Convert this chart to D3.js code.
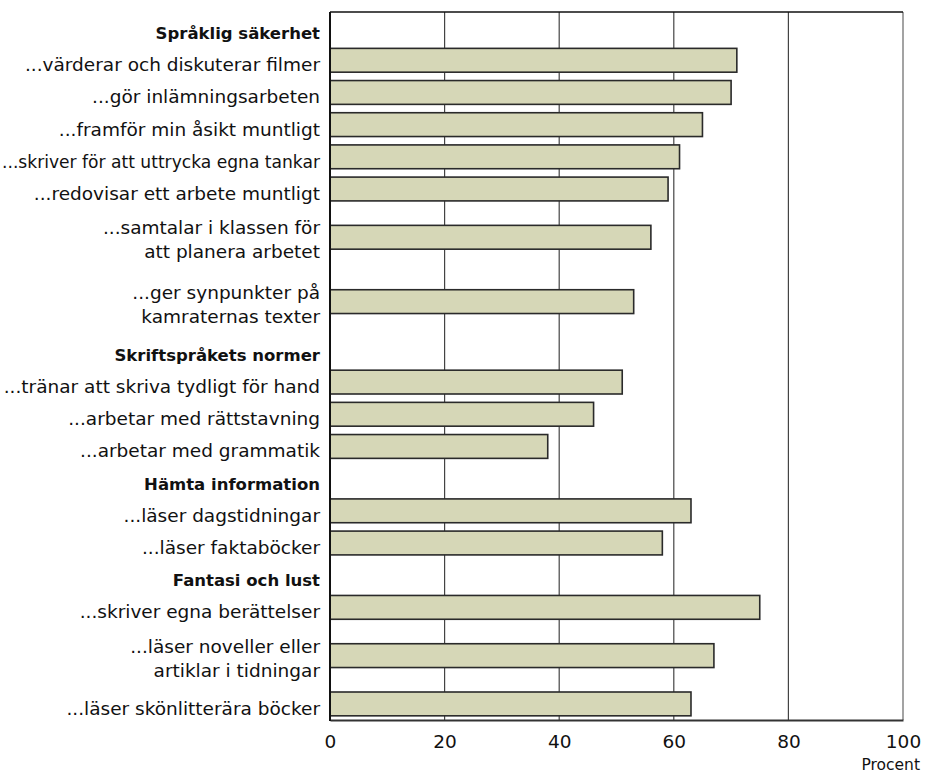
<!DOCTYPE html>
<html>

<head>
    <meta http-equiv="Content-Type" content="text/html; charset=UTF-8">
    <style>
        body { margin: 0; background: #fff; }
        text { font-family: "DejaVu Sans", sans-serif; fill: #111; }
    </style>
</head>

<body>
    <svg width="928" height="773"></svg>
    <script src="https://cdnjs.cloudflare.com/ajax/libs/d3/7.8.5/d3.min.js"></script>

    <script>

        // group headings
        let groups = ["Språklig säkerhet", "Skriftspråkets normer", "Hämta information", "Fantasi och lust"];

        // items, "|" = line break in the label
        let labels = [
            "...värderar och diskuterar filmer",
            "...gör inlämningsarbeten",
            "...framför min åsikt muntligt",
            "...skriver för att uttrycka egna tankar",
            "...redovisar ett arbete muntligt",
            "...samtalar i klassen för|att planera arbetet",
            "...ger synpunkter på|kamraternas texter",
            "...tränar att skriva tydligt för hand",
            "...arbetar med rättstavning",
            "...arbetar med grammatik",
            "...läser dagstidningar",
            "...läser faktaböcker",
            "...skriver egna berättelser",
            "...läser noveller eller|artiklar i tidningar",
            "...läser skönlitterära böcker"
        ];
        let groupOf = [0, 0, 0, 0, 0, 0, 0, 1, 1, 1, 2, 2, 3, 3, 3];
        let values = [71, 70, 65, 61, 59, 56, 53, 51, 46, 38, 63, 58, 75, 67, 63];

        let xTicks = [0, 20, 40, 60, 80, 100];

        let width = 928, height = 773;
        let margin = { top: 12, right: 25, bottom: 53, left: 330 };

        let svg = d3.select("svg");

        // build rows: header rows + item rows, two-line labels take two slots
        let rows = [];
        groups.forEach((g, gi) => {
            rows.push({ type: "head", lines: [g], size: 1 });
            labels.forEach((l, i) => {
                if (groupOf[i] === gi) {
                    let lines = l.split("|");
                    rows.push({ type: "item", lines: lines, value: values[i], size: lines.length });
                }
            });
        });
        let acc = 0;
        rows.forEach(r => { r.mid = acc + r.size / 2; acc += r.size; });

        let x = d3.scaleLinear()
            .domain([0, 100])
            .range([margin.left, width - margin.right]);

        let y = d3.scaleLinear()
            .domain([0, acc])
            .range([margin.top, height - margin.bottom]);

        let slot = y(1) - y(0);
        let barH = slot * 0.74;

        // gridlines
        svg.append("g")
            .selectAll("line")
            .data(xTicks.slice(1))
            .enter()
            .append("line")
            .attr("x1", d => x(d)).attr("x2", d => x(d))
            .attr("y1", y(0)).attr("y2", y(acc))
            .attr("stroke", d => d === 100 ? "#666" : "#444")
            .attr("stroke-width", 1.2);

        // top border
        svg.append("line")
            .attr("x1", x(0)).attr("x2", x(100))
            .attr("y1", y(0)).attr("y2", y(0))
            .attr("stroke", "#111").attr("stroke-width", 1.5);

        let items = rows.filter(r => r.type === "item");

        svg.append("g")
            .selectAll("rect")
            .data(items)
            .enter()
            .append("rect")
            .attr("x", x(0))
            .attr("y", d => y(d.mid) - barH / 2)
            .attr("width", d => x(d.value) - x(0))
            .attr("height", barH)
            .attr("fill", "#d6d7b7")
            .attr("stroke", "#2a2a2a")
            .attr("stroke-width", 1.6);

        // bottom axis
        let xAxis = svg.append("g")
            .attr("transform", "translate(0," + y(acc) + ")")
            .call(d3.axisBottom(x).tickValues(xTicks).tickSize(0).tickPadding(15));
        xAxis.select(".domain").attr("stroke", "#333").attr("stroke-width", 2);
        xAxis.selectAll("text")
            .style("font-size", "18.5px")
            .style("font-family", "'DejaVu Sans', sans-serif")
            .attr("fill", "#111");

        // left axis line
        svg.append("line")
            .attr("x1", x(0)).attr("x2", x(0))
            .attr("y1", y(0)).attr("y2", y(acc) + 1)
            .attr("stroke", "#111").attr("stroke-width", 2);

        svg.append("text")
            .attr("x", width - 8)
            .attr("y", height - 3)
            .attr("text-anchor", "end")
            .style("font-size", "15.5px")
            .text("Procent");

        // labels
        let lab = svg.append("g")
            .selectAll("text")
            .data(rows)
            .enter()
            .append("text")
            .attr("text-anchor", "end")
            .style("font-size", d => d.type === "head" ? "16.5px" : "18.5px")
            .style("font-weight", d => d.type === "head" ? "bold" : "normal");

        let maxW = x(0) - 12;
        lab.each(function (d) {
            let t = d3.select(this);
            let n = d.lines.length;
            d.lines.forEach((l, i) => {
                let ts = t.append("tspan")
                    .attr("x", x(0) - 10)
                    .attr("y", y(d.mid) + (i - (n - 1) / 2) * 24 + 11 - (n - 1) * 2)
                    .text(l);
                // squeeze long lines to fit the margin
                if (ts.node().getComputedTextLength() > maxW) {
                    ts.attr("textLength", maxW).attr("lengthAdjust", "spacingAndGlyphs");
                }
            });
        });

    </script>

</body>

</html>
